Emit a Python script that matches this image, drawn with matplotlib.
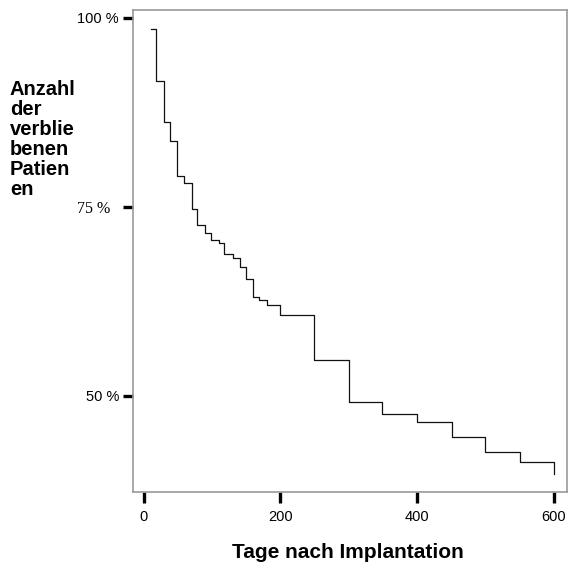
import matplotlib
matplotlib.use("Agg")
import matplotlib.pyplot as plt
from matplotlib.transforms import ScaledTranslation

# Kaplan-Meier style data (days, percent remaining)
days = [10, 18, 29, 38, 49, 59, 70, 78, 90, 98, 110, 118, 130, 141, 150,
        160, 169, 180, 200, 249, 300, 349, 400, 451, 500, 550, 600]
remaining = [98.5, 91.6, 86.2, 83.7, 79.1, 78.2, 74.7, 72.6, 71.5, 70.6, 70.2,
             68.7, 68.2, 67.1, 65.5, 63.1, 62.7, 62.0, 60.7, 54.7, 49.2, 47.6,
             46.5, 44.6, 42.6, 41.2, 39.7]
xticks = [0, 200, 400, 600]
xtick_labels = ["0", "200", "400", "600"]
yticks = [50, 75, 100]
ytick_labels = ["50 %", "75 %", "100 %"]

plt.rcParams['font.family'] = ['Liberation Sans', 'DejaVu Sans']

W, H = 568, 567
fig = plt.figure(figsize=(W / 100, H / 100), dpi=100)
ax = fig.add_axes([133 / W, (H - 492) / H, 434 / W, 482 / H])

ax.step(days, remaining, where='post', color='#111111', lw=0.9)

ax.set_xlim(-15.7, 619.3)
ax.set_ylim(37.3, 101.0)

for s in ax.spines.values():
    s.set_color('#999999')
    s.set_linewidth(1.2)

ax.set_xticks(xticks)
ax.set_xticklabels(xtick_labels, fontsize=10.5)
ax.set_yticks(yticks)
ax.set_yticklabels(ytick_labels, fontsize=10.5)
ax.tick_params(axis='x', length=8, width=2.4, color='black', pad=5)
ax.tick_params(axis='y', length=7, width=2.4, color='black', pad=3)
for lab in ax.get_yticklabels():
    if lab.get_text() == "75 %":
        lab.set_family('Liberation Serif')
        lab.set_fontsize(11.5)
        lab.set_transform(lab.get_transform() +
                          ScaledTranslation(-9 / 100, 0, fig.dpi_scale_trans))

fig.text(10 / W, 1 - 80 / H, "Anzahl\nder\nverblie\nbenen\nPatien\nen",
         ha='left', va='top', fontsize=14.5, fontweight='bold', linespacing=1.07)
fig.text(348 / W, 1 - 552 / H, "Tage nach Implantation", ha='center',
         va='center', fontsize=15, fontweight='bold')

fig.savefig("out.png", dpi=100)
